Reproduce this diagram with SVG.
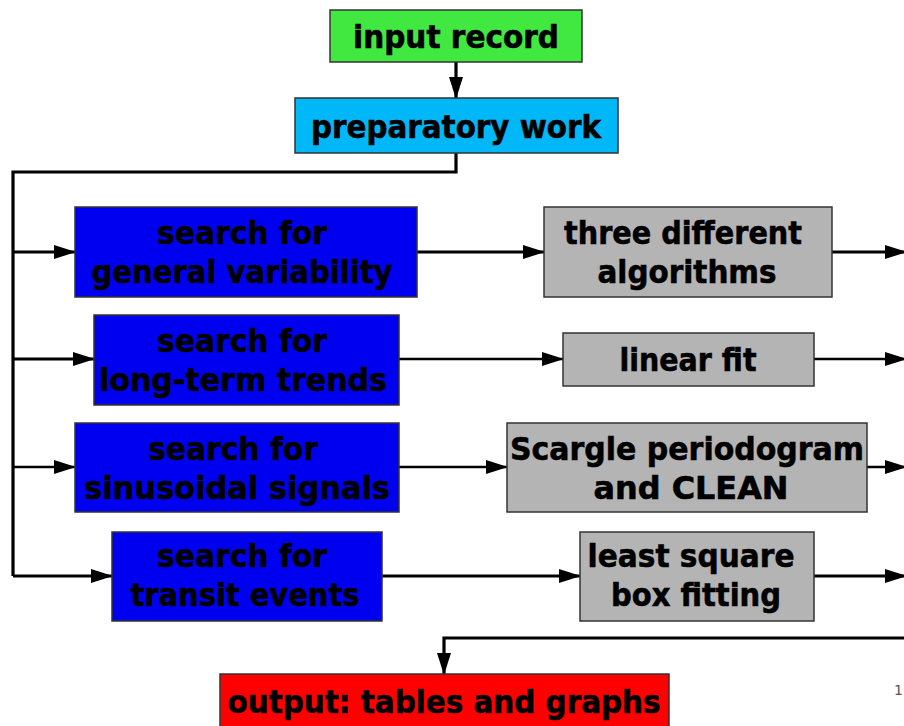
<svg xmlns="http://www.w3.org/2000/svg" width="904" height="726" viewBox="0 0 904 726">
<defs>
<style>
.box{stroke:#333;stroke-width:1.5}
.t{font-family:"DejaVu Sans","Liberation Sans",sans-serif;font-weight:bold;font-size:32px;fill:#000;text-anchor:middle;stroke:#000;stroke-width:0.6}
.c{fill:none;stroke:#000;stroke-width:3.2}
.c2{fill:none;stroke:#000;stroke-width:2.6}
</style>
<marker id="ah" viewBox="0 0 22 14" refX="21" refY="7" markerWidth="22" markerHeight="14" markerUnits="userSpaceOnUse" orient="auto">
<path d="M0,0 L22,7 L0,14 Z" fill="#000"/>
</marker>
</defs>
<rect width="904" height="726" fill="#fff"/>
<g id="connectors">
<path class="c" d="M456,62 V98" marker-end="url(#ah)"/>
<path class="c" d="M456,153 V172 H13 V576"/>
<path class="c" d="M13,252 H75" marker-end="url(#ah)"/>
<path class="c" d="M13,359 H94" marker-end="url(#ah)"/>
<path class="c2" d="M13,467 H75" marker-end="url(#ah)"/>
<path class="c" d="M13,576 H112" marker-end="url(#ah)"/>
<path class="c" d="M417,252 H544" marker-end="url(#ah)"/>
<path class="c2" d="M399,359 H563" marker-end="url(#ah)"/>
<path class="c2" d="M399,467 H507" marker-end="url(#ah)"/>
<path class="c" d="M382,576 H580" marker-end="url(#ah)"/>
<path class="c" d="M832,252 H906" marker-end="url(#ah)"/>
<path class="c2" d="M814,359 H906" marker-end="url(#ah)"/>
<path class="c2" d="M867,467 H906" marker-end="url(#ah)"/>
<path class="c" d="M814,576 H906" marker-end="url(#ah)"/>
<path class="c" d="M904,638 H444 V674" marker-end="url(#ah)"/>
</g>
<g id="input">
<rect class="box" x="330" y="10" width="252" height="52" fill="#40e840"/>
<text class="t" x="456" y="48" textLength="206" lengthAdjust="spacingAndGlyphs">input record</text>
</g>
<g id="prep">
<rect class="box" x="295" y="98" width="323" height="55" fill="#00b8f8"/>
<text class="t" x="456" y="138" textLength="290" lengthAdjust="spacingAndGlyphs">preparatory work</text>
</g>
<g id="search1">
<rect class="box" x="75" y="207" width="342" height="90" fill="#0000f0"/>
<text class="t" x="242" y="244" textLength="170" lengthAdjust="spacingAndGlyphs">search for</text>
<text class="t" x="242" y="283" textLength="301" lengthAdjust="spacingAndGlyphs">general variability</text>
</g>
<g id="alg1">
<rect class="box" x="544" y="207" width="288" height="90" fill="#b4b4b4"/>
<text class="t" x="683" y="244" textLength="238" lengthAdjust="spacingAndGlyphs">three different</text>
<text class="t" x="687" y="283" textLength="179" lengthAdjust="spacingAndGlyphs">algorithms</text>
</g>
<g id="search2">
<rect class="box" x="94" y="315" width="305" height="90" fill="#0000f0"/>
<text class="t" x="242" y="352" textLength="170" lengthAdjust="spacingAndGlyphs">search for</text>
<text class="t" x="243" y="391" textLength="288" lengthAdjust="spacingAndGlyphs">long-term trends</text>
</g>
<g id="alg2">
<rect class="box" x="563" y="333" width="251" height="53" fill="#b4b4b4"/>
<text class="t" x="688" y="371" textLength="137" lengthAdjust="spacingAndGlyphs">linear fit</text>
</g>
<g id="search3">
<rect class="box" x="75" y="423" width="324" height="89" fill="#0000f0"/>
<text class="t" x="233" y="460" textLength="170" lengthAdjust="spacingAndGlyphs">search for</text>
<text class="t" x="237" y="499" textLength="306" lengthAdjust="spacingAndGlyphs">sinusoidal signals</text>
</g>
<g id="alg3">
<rect class="box" x="507" y="423" width="360" height="89" fill="#b4b4b4"/>
<text class="t" x="687" y="460" textLength="354" lengthAdjust="spacingAndGlyphs">Scargle periodogram</text>
<text class="t" x="691" y="499" textLength="195" lengthAdjust="spacingAndGlyphs">and CLEAN</text>
</g>
<g id="search4">
<rect class="box" x="112" y="532" width="270" height="89" fill="#0000f0"/>
<text class="t" x="242" y="567" textLength="170" lengthAdjust="spacingAndGlyphs">search for</text>
<text class="t" x="245" y="606" textLength="229" lengthAdjust="spacingAndGlyphs">transit events</text>
</g>
<g id="alg4">
<rect class="box" x="580" y="532" width="234" height="89" fill="#b4b4b4"/>
<text class="t" x="691" y="567" textLength="207" lengthAdjust="spacingAndGlyphs">least square</text>
<text class="t" x="696" y="606" textLength="170" lengthAdjust="spacingAndGlyphs">box fitting</text>
</g>
<g id="output">
<rect class="box" x="220" y="674" width="449" height="56" fill="#ff0000"/>
<text class="t" x="444" y="713" textLength="433" lengthAdjust="spacingAndGlyphs">output: tables and graphs</text>
</g>
<text x="894" y="695" font-family="DejaVu Sans,sans-serif" font-size="14" fill="#555">1</text>
</svg>
